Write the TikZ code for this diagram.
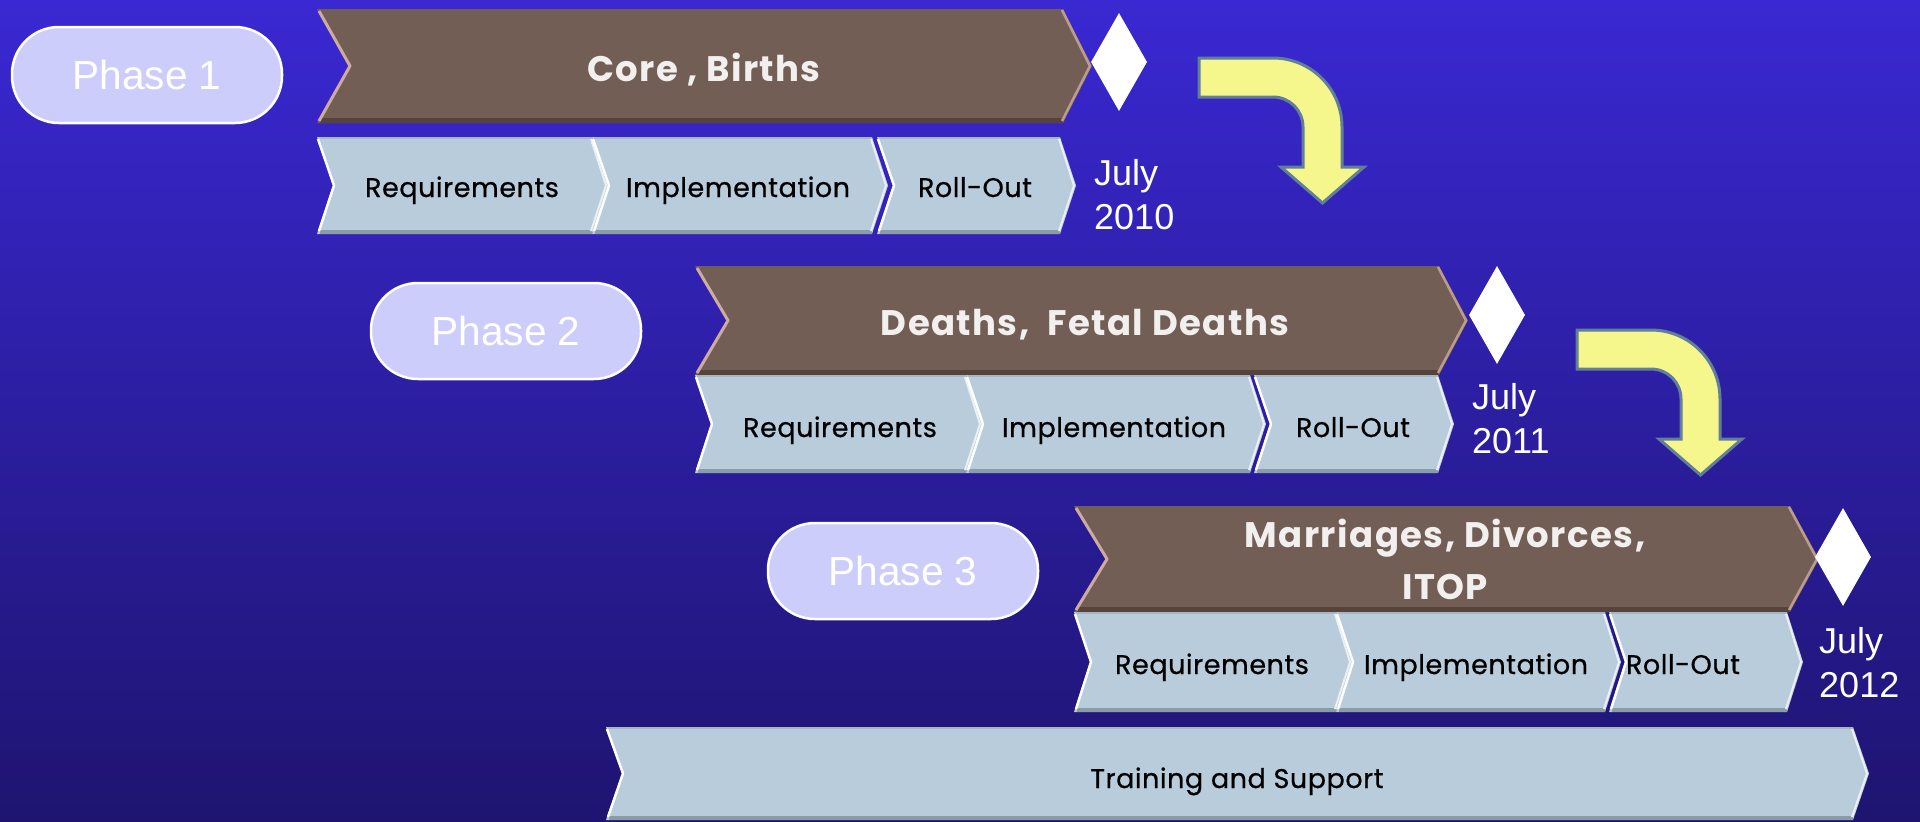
\documentclass[tikz,border=0pt]{standalone}
\usepackage{fontspec}
\setmainfont{Liberation Sans}
\newfontfamily\geo[FakeBold=0.6,LetterSpace=2]{Poppins}
\newfontfamily\geot[LetterSpace=4]{Poppins}
\usetikzlibrary{shapes.geometric}

\definecolor{bgtop}{RGB}{58,40,210}
\definecolor{bgbot}{RGB}{30,20,112}
\definecolor{brownfill}{RGB}{115,94,85}
\definecolor{browndark}{RGB}{86,68,60}
\definecolor{brownhi}{RGB}{205,172,158}
\definecolor{lightfill}{RGB}{185,204,219}
\definecolor{lightdark}{RGB}{138,156,168}
\definecolor{lighttop}{RGB}{168,182,194}
\definecolor{pillfill}{RGB}{205,205,251}
\definecolor{arrowfill}{RGB}{245,246,140}
\definecolor{arrowline}{RGB}{98,127,152}
\definecolor{browntext}{RGB}{242,240,238}

% x1 x2 ytop ybot : light chevron
\newcommand\lightchev[4]{%
  \fill[lightfill] (#1,#3) -- (#2,#3) -- ({#2+16},{(#3+#4)/2}) -- (#2,#4) -- (#1,#4) -- ({#1+16},{(#3+#4)/2}) -- cycle;
  \draw[lighttop, line width=2] ({#1+2},{#3+1}) -- ({#2},{#3+1});
  \draw[lightdark, line width=4] ({#1+3},{#4-2}) -- ({#2},{#4-2});
  \draw[white, line width=2.5, line join=round] ({#1+1},{#3+2}) -- ({#1+17},{(#3+#4)/2}) -- ({#1+2},{#4-3});
  \draw[white!70!lightfill, line width=2, line join=round] ({#2-1},{#3+2}) -- ({#2+14},{(#3+#4)/2}) -- ({#2-1},{#4-3});
}
% x1 x2 ytop ybot : brown chevron
\newcommand\brownchev[4]{%
  \fill[brownfill] (#1,#3) -- (#2,#3) -- ({#2+29},{(#3+#4)/2}) -- (#2,#4) -- (#1,#4) -- ({#1+33},{(#3+#4)/2}) -- cycle;
  \draw[browndark, line width=5] ({#1+3},{#4-2.5}) -- ({#2},{#4-2.5});
  \draw[brownhi, line width=3, line join=round] ({#1+2},{#3+2}) -- ({#1+33},{(#3+#4)/2}) -- ({#1+2},{#4-2});
  \draw[brownhi!80!brownfill, line width=2.5, line join=round] ({#2-1},{#3+1}) -- ({#2+27},{(#3+#4)/2}) -- ({#2-1},{#4-2});
}
% yellow bent arrow, origin = top-left corner of shaft
\newcommand\bentarrow[2]{%
  \begin{scope}[shift={(#1,#2)}]
    \filldraw[fill=arrowfill, draw=arrowline, line width=3, line join=miter]
      (0,0) -- (74,0) .. controls (112.1,0) and (143,30.9) .. (143,69)
      -- (143,109) -- (165,109) -- (123.5,145) -- (82,109) -- (104,109)
      -- (104,69) .. controls (104,52.4) and (90.6,39) .. (74,39) -- (0,39) -- cycle;
  \end{scope}
}

\begin{document}
\begin{tikzpicture}[x=1pt,y=-1pt,
  pill/.style={draw=white, line width=2.5pt, fill=pillfill, rounded corners=47pt,
    minimum width=270pt, minimum height=96pt, inner sep=0pt, text=white,
    font=\fontsize{40.6}{48}\selectfont},
  gem/.style={diamond, fill=white, minimum width=56pt, minimum height=98pt, inner sep=0pt},
  datetxt/.style={anchor=base west, inner sep=0pt, text=white, font=\fontsize{36}{44}\selectfont},
  stagetxt/.style={anchor=base, inner sep=0pt, text=black, font=\geo\fontsize{27}{32}\selectfont},
  titletxt/.style={anchor=base, inner sep=0pt, text=browntext, font=\geot\bfseries\fontsize{35.5}{40}\selectfont}
]
\useasboundingbox (0,0) rectangle (1920,822);
\shade[top color=bgtop, bottom color=bgbot] (0,0) rectangle (1920,822);

% ---------- Phase 1 ----------
\node[pill] (p1) at (147,75) {Phase 1};
\brownchev{317}{1063}{9}{123}
\node[titletxt] (t1) at (704,81) {Core , Births};
\node[gem] (d1) at (1119,62) {};
\lightchev{317}{592}{137}{234}
\lightchev{592}{872}{137}{234}
\lightchev{877}{1060}{137}{234}
\node[stagetxt] (r1) at (462,197) {Requirements};
\node[stagetxt] (i1) at (738,197) {Implementation};
\node[stagetxt] (o1) at (975,197) {Roll-Out};
\node[datetxt] (j1) at (1094,185) {July};
\node[datetxt] (y1) at (1094,229) {2010};
\bentarrow{1199}{58}

% ---------- Phase 2 ----------
\node[pill] (p2) at (506,331) {Phase 2};
\brownchev{695}{1439}{266}{375}
\node[titletxt] (t2) at (1085,335) {Deaths,\ \ Fetal Deaths};
\node[gem] (d2) at (1497,315) {};
\lightchev{695}{966}{375}{473}
\lightchev{966}{1250}{375}{473}
\lightchev{1254}{1438}{375}{473}
\node[stagetxt] (r2) at (840,437) {Requirements};
\node[stagetxt] (i2) at (1114,437) {Implementation};
\node[stagetxt] (o2) at (1353,437) {Roll-Out};
\node[datetxt] (j2) at (1472,409) {July};
\node[datetxt] (y2) at (1472,453) {2011};
\bentarrow{1577}{330}

% ---------- Phase 3 ----------
\node[pill] (p3) at (903,571) {Phase 3};
\brownchev{1074}{1790}{506}{612}
\node[titletxt] (t3a) at (1445,547) {Marriages, Divorces,};
\node[titletxt] (t3b) at (1445,599) {ITOP};
\node[gem] (d3) at (1843,557) {};
\lightchev{1074}{1336}{612}{712}
\lightchev{1336}{1605}{612}{712}
\lightchev{1609}{1787}{612}{712}
\node[stagetxt] (r3) at (1212,674) {Requirements};
\node[stagetxt] (i3) at (1476,674) {Implementation};
\node[stagetxt] (o3) at (1683,674) {Roll-Out};
\node[datetxt] (j3) at (1819,653) {July};
\node[datetxt] (y3) at (1819,697) {2012};

% ---------- Training ----------
\lightchev{606}{1853}{727}{820}
\node[stagetxt] (tr) at (1237,788) {Training and Support};
\end{tikzpicture}
\end{document}
